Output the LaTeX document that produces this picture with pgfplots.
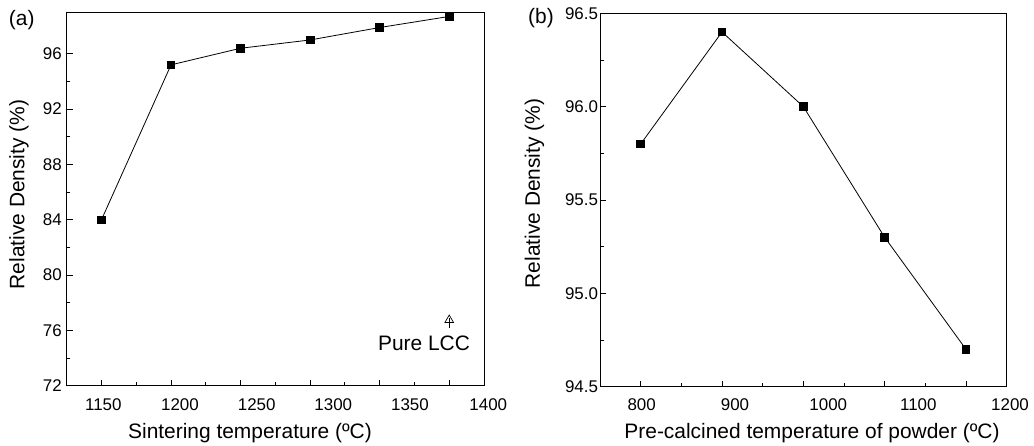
\documentclass[border=0pt]{standalone}
\usepackage{pgfplots}
\pgfplotsset{compat=1.18}
\usepackage{fontspec}
\setmainfont{Liberation Sans}
\newcommand{\tickfont}{\fontsize{17}{20}\selectfont}
\newcommand{\labfont}{\fontsize{21}{25}\selectfont}
\pgfplotsset{
  myaxis/.style={
    anchor=south west,
    scale only axis,
    clip=false,
    tick align=inside,
    xtick pos=bottom,
    ytick pos=left,
    major tick length=6bp,
    minor tick length=3.5bp,
    minor x tick num=1,
    minor y tick num=1,
    axis line style={line width=1bp},
    every tick/.style={line width=0.9bp, black},
    xticklabels={},
    yticklabel style={font=\tickfont},
    /pgf/number format/assume math mode=true,
  },
  dataline/.style={black, line width=0.8bp, mark=square*, mark size=3.8bp, mark options={solid, fill=black}},
}
\begin{document}
\begin{tikzpicture}
\useasboundingbox (0bp,0bp) rectangle (1034bp,-446bp);

% ---------- panel (a) ----------
\begin{axis}[myaxis,
  at={(66.7bp,-385.7bp)},
  width=417.3bp, height=373.4bp,
  xmin=1125, xmax=1425, ymin=72, ymax=99,
  xtick={1150,1200,1250,1300,1350,1400},
  ytick={72,76,80,84,88,92,96},
  yticklabel style={xshift=-1.5bp},
]
\addplot[dataline] coordinates {
  (1150,84.0) (1200,95.2) (1250,96.4) (1300,97.0) (1350,97.9) (1400,98.7)
};
\addplot[only marks, black, mark=triangle, mark size=5bp, mark options={line width=0.7bp}] coordinates {(1400,76.75)};
\addplot[only marks, black, mark=|, mark size=5bp, mark options={line width=0.7bp}] coordinates {(1400,76.55)};
\end{axis}

% ---------- panel (b) ----------
\begin{axis}[myaxis,
  at={(600bp,-386.7bp)},
  width=406.7bp, height=373.4bp,
  xmin=750, xmax=1250, ymin=94.5, ymax=96.5,
  xtick={800,900,1000,1100,1200},
  ytick={94.5,95.0,95.5,96.0,96.5},
  /pgf/number format/fixed,
  /pgf/number format/fixed zerofill,
  /pgf/number format/precision=1,
  yticklabel style={xshift=1.5bp},
]
\addplot[dataline] coordinates {
  (800,95.8) (900,96.4) (1000,96.0) (1100,95.3) (1200,94.7)
};
\end{axis}

% ---------- x tick labels (as printed) ----------
\foreach \x/\t in {103.3/1150, 180/1200, 256.7/1250, 333.3/1300, 410/1350, 488.3/1400,
                   641.7/800, 735/900, 828.3/1000, 918.3/1100, 1010/1200}
  \node[anchor=base, inner sep=0pt, font=\tickfont] at (\x bp,-410bp) {\t};

% ---------- axis labels ----------
\node[anchor=base, inner sep=0pt, font=\labfont] at (250bp,-438bp) {Sintering temperature (ºC)};
\node[anchor=base, inner sep=0pt, font=\labfont] at (812bp,-438bp) {Pre-calcined temperature of powder (ºC)};
\node[rotate=90, inner sep=0pt, font=\labfont] at (19bp,-194.5bp) {Relative Density (\%)};
\node[rotate=90, inner sep=0pt, font=\labfont] at (534.5bp,-193.5bp) {Relative Density (\%)};

% ---------- panel tags and annotation ----------
\node[inner sep=0pt, font=\labfont] at (21.7bp,-20bp) {(a)};
\node[inner sep=0pt, font=\labfont] at (541bp,-18.5bp) {(b)};
\node[anchor=base, inner sep=0pt, font=\labfont] at (424bp,-350bp) {Pure LCC};
\end{tikzpicture}
\end{document}
